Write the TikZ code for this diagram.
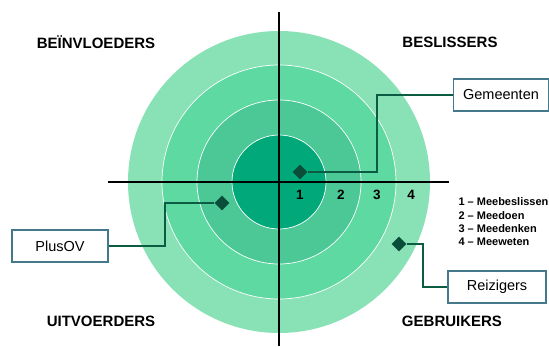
\documentclass[tikz,border=0pt]{standalone}
\usepackage{fontspec}
\setmainfont{Liberation Sans}
\usetikzlibrary{shapes.geometric}

\definecolor{ringA}{RGB}{0,168,122}
\definecolor{ringB}{RGB}{76,200,150}
\definecolor{ringC}{RGB}{94,217,162}
\definecolor{ringD}{RGB}{137,225,182}
\definecolor{linkgreen}{RGB}{12,92,68}
\definecolor{boxline}{RGB}{70,120,140}

\tikzset{
  quad/.style={font=\fontsize{15}{17}\selectfont\bfseries},
  num/.style={font=\fontsize{13.5}{15}\selectfont\bfseries},
  actor/.style={draw=boxline, line width=1.1pt, fill=white, minimum height=32pt,
    inner sep=0pt, font=\fontsize{14.5}{17}\selectfont},
  diam/.style={diamond, fill=linkgreen!85!black, minimum size=15pt, inner sep=0pt},
  link/.style={draw=linkgreen, line width=2.6pt},
}

\begin{document}
\begin{tikzpicture}[x=1pt, y=-1pt]
\useasboundingbox (0,0) rectangle (549,346);

% rings
\fill[ringD] (279,182) circle[radius=151pt];
\filldraw[fill=ringC, draw=white, line width=.7pt] (279,182) circle[radius=117pt];
\filldraw[fill=ringB, draw=white, line width=.7pt] (279,182) circle[radius=82pt];
\filldraw[fill=ringA, draw=white, line width=.7pt] (279,182) circle[radius=47pt];

% axes
\draw[line width=2.5pt] (108,182)--(449,182);
\draw[line width=2.5pt] (279,12)--(279,346);

\foreach \n/\x in {1/300,2/341,3/377,4/411}
  \node[num] (n\n) at (\x,195) {\n};

\node[quad] (infl) at (96,42) {BEÏNVLOEDERS};
\node[quad] (besl) at (450,42) {BESLISSERS};
\node[quad] (uitv) at (101,321) {UITVOERDERS};
\node[quad] (gebr) at (452,321) {GEBRUIKERS};

\node[align=left, anchor=west, font=\fontsize{11}{13.3}\selectfont\bfseries] (legend) at (455,222)
  {1 – Meebeslissen\\2 – Meedoen\\3 – Meedenken\\4 – Meeweten};

% actors
\node[actor, minimum width=95pt] (gem) at (501,95) {Gemeenten};
\node[actor, minimum width=96pt] (plus) at (60,246) {PlusOV};
\node[actor, minimum width=98pt] (reis) at (497,287) {Reizigers};

\node[diam] (dG) at (300,172) {};
\node[diam] (dP) at (222,203) {};
\node[diam] (dR) at (399,244) {};

\draw[link] (dG) -- (377,172) |- (gem.west);
\draw[link] (dP) -- (165,203) |- (plus.east);
\draw[link] (dR) -- (423,244) |- (reis.west);

\end{tikzpicture}
\end{document}
